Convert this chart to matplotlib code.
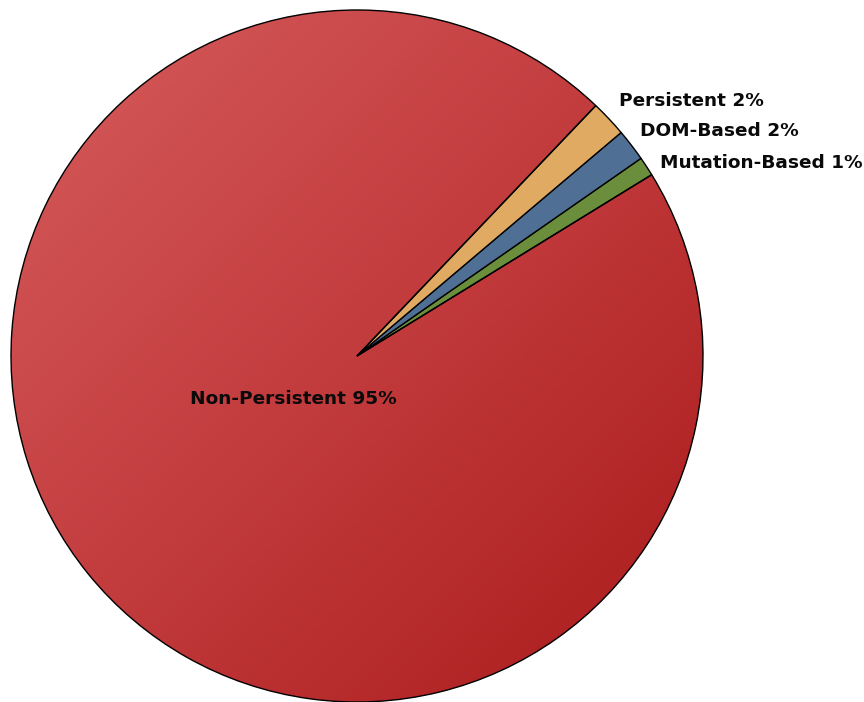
import numpy as np
import matplotlib
matplotlib.use('Agg')
import matplotlib.pyplot as plt
from matplotlib.colors import LinearSegmentedColormap

# data (counter-clockwise from the green slice)
names = ['Mutation-Based', 'DOM-Based', 'Persistent', 'Non-Persistent']
shares = [0.9, 1.5, 1.7, 95.9]
shown_pct = [1, 2, 2, 95]
colors = ['#6b8e3c', '#4f6f95', '#e0aa62', '#c63a3a']

W, H = 864, 702
fig = plt.figure(figsize=(W / 100, H / 100), dpi=100)
ax = fig.add_axes([0, 0, 1, 1])

cx, cy, r = 357, H - 356, 346

wedges, _ = ax.pie(shares, colors=colors, startangle=31.6, counterclock=True,
                   center=(cx, cy), radius=r,
                   wedgeprops=dict(edgecolor='black', linewidth=1.0))

# gradient fill on the big slice (light top-left -> dark bottom-right)
big = wedges[3]
big.set_facecolor('none')
cmap = LinearSegmentedColormap.from_list('red', ['#d65c5c', '#c23b3d', '#aa1a1a'])
yy, xx = np.mgrid[0:1:300j, 0:1:300j]
grad = (xx + yy) / 2
img = ax.imshow(grad, cmap=cmap, extent=(cx - r, cx + r, cy - r, cy + r),
                origin='upper', zorder=big.get_zorder() - 0.1, interpolation='bilinear')
img.set_clip_path(big)

ax.set_xlim(0, W)
ax.set_ylim(0, H)
ax.set_aspect('equal')
ax.axis('off')

txt = dict(fontsize=13.3, fontweight='bold', color='#0a0a0a', va='center', ha='left')
ax.text(619, H - 101, f'{names[2]} {shown_pct[2]}%', **txt)
ax.text(640, H - 131, f'{names[1]} {shown_pct[1]}%', **txt)
ax.text(660, H - 163, f'{names[0]} {shown_pct[0]}%', **txt)
ax.text(190, H - 399, f'{names[3]} {shown_pct[3]}%', **txt)

fig.savefig('out.png', dpi=100)
